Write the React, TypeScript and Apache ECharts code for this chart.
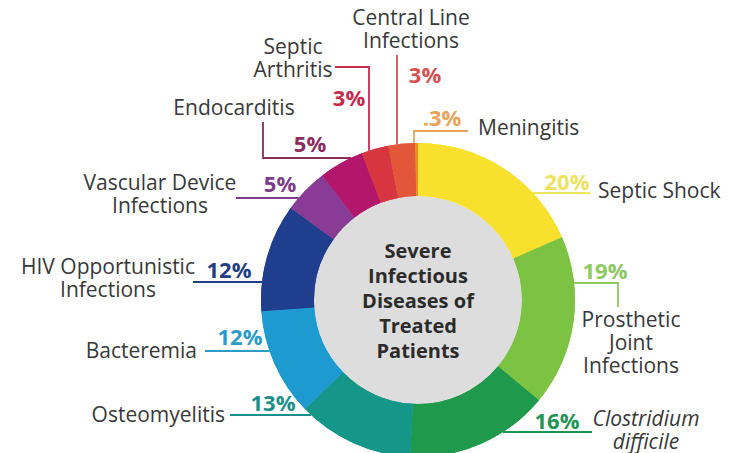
import React, { useEffect, useRef } from 'react';
import * as echarts from 'echarts';

// ---------- data ----------
const categories = [
  'Septic Shock',
  'Prosthetic\nJoint\nInfections',
  'Clostridium\ndifficile',
  'Osteomyelitis',
  'Bacteremia',
  'HIV Opportunistic\nInfections',
  'Vascular Device\nInfections',
  'Endocarditis',
  'Septic\nArthritis',
  'Central Line\nInfections',
  'Meningitis',
];
const shares = [20, 19, 16, 13, 12, 12, 5, 5, 3, 3, 0.3];
const centerTitle = 'Severe\nInfectious\nDiseases of\nTreated\nPatients';
const italicNames = ['Clostridium\ndifficile'];

// ---------- style ----------
const FONT = '"Open Sans", "Noto Sans", sans-serif';
const sliceColors = ['#F7E12C', '#7CC243', '#1F9A4C', '#149689', '#1D9AD0', '#1F3F8E', '#893C96', '#B3176C', '#D7363E', '#E2573A', '#EE8C2C'];
const accentColors = ['#ECE35E', '#8DC862', '#1E9455', '#1A8F8A', '#2C9BC6', '#223F84', '#7C3D8C', '#8A2F5C', '#C52B4E', '#D5504F', '#E9A35A'];
const CX = 418;
const CY = 300;
const R_OUT = 157;
const R_IN = 104;

// label layout (positions in px)
const pctPos = [
  { x: 567, y: 181, align: 'center' },
  { x: 605, y: 270, align: 'center' },
  { x: 557, y: 420, align: 'center' },
  { x: 273, y: 402, align: 'center' },
  { x: 240, y: 336, align: 'center' },
  { x: 229, y: 269, align: 'center' },
  { x: 280, y: 183, align: 'center' },
  { x: 310, y: 143, align: 'center' },
  { x: 349, y: 97, align: 'center' },
  { x: 425, y: 74, align: 'center' },
  { x: 442, y: 117, align: 'center' },
];
const namePos = [
  { x: 598, y: 190, align: 'left' },
  { x: 631, y: 342, align: 'center' },
  { x: 646, y: 429, align: 'center' },
  { x: 225, y: 414, align: 'right' },
  { x: 197, y: 350, align: 'right' },
  { x: 108, y: 277, align: 'center' },
  { x: 160, y: 193, align: 'center' },
  { x: 234, y: 107, align: 'center' },
  { x: 293, y: 57, align: 'center' },
  { x: 411, y: 28, align: 'center' },
  { x: 478, y: 127, align: 'left' },
];
// leader: first segment leaves the ring horizontally ('h', at y) or vertically ('v', at x)
const leaders = [
  { dir: 'h', at: 193, path: [[590, 193]] },
  { dir: 'h', at: 283, path: [[618, 283], [618, 307]] },
  { dir: 'h', at: 432, path: [[592, 432]] },
  { dir: 'h', at: 415, path: [[230, 415]] },
  { dir: 'h', at: 351, path: [[205, 351]] },
  { dir: 'h', at: 282, path: [[193, 282]] },
  { dir: 'h', at: 198, path: [[236, 198]] },
  { dir: 'h', at: 158, path: [[263, 158], [263, 122]] },
  { dir: 'v', at: 369, path: [[369, 67], [335, 67]] },
  { dir: 'v', at: 397, path: [[397, 55]] },
  { dir: 'v', at: 414, path: [[414, 131], [468, 131]] },
];

function ringPoint(dir: string, at: number, toward: number[]) {
  if (dir === 'h') {
    const dy = at - CY;
    const dx = Math.sqrt(Math.max(0, R_OUT * R_OUT - dy * dy));
    return [toward[0] > CX ? CX + dx : CX - dx, at];
  }
  const dx = at - CX;
  const dy = Math.sqrt(Math.max(0, R_OUT * R_OUT - dx * dx));
  return [at, toward[1] > CY ? CY + dy : CY - dy];
}

function pctText(v: number) {
  return String(v).replace(/^0(?=\.)/, '') + '%';
}

export default function App() {
  const ref = useRef<HTMLDivElement>(null);
  useEffect(() => {
    if (!ref.current) return;
    const chart = echarts.init(ref.current, null, { renderer: 'svg' });
    const option: any = {
      animation: false,
      backgroundColor: '#ffffff',
      textStyle: { fontFamily: FONT },
      series: [
        {
          type: 'pie',
          name: 'center',
          radius: [0, R_IN],
          center: [CX, CY],
          silent: true,
          label: {
            show: true,
            position: 'center',
            formatter: centerTitle,
            fontFamily: FONT,
            fontSize: 20,
            fontWeight: 'bold',
            lineHeight: 25,
            color: '#2B2B2B',
          },
          labelLine: { show: false },
          itemStyle: { color: '#DDDDDD' },
          data: [{ value: 1, name: 'center' }],
        },
        {
          type: 'pie',
          name: 'names',
          radius: [R_IN, R_OUT],
          center: [CX, CY],
          startAngle: 90,
          clockwise: true,
          silent: true,
          avoidLabelOverlap: false,
          itemStyle: { borderWidth: 0 },
          label: {
            show: true,
            position: 'outside',
            formatter: '{b}',
            fontFamily: FONT,
            fontSize: 21,
            lineHeight: 23,
            color: '#383838',
            width: 400,
            overflow: 'none',
          },
          labelLine: { show: false },
          labelLayout: (p: any) => {
            const pos = namePos[p.dataIndex];
            return { x: pos.x, y: pos.y, align: pos.align, verticalAlign: 'middle' };
          },
          data: categories.map((c, i) => ({
            name: c,
            value: shares[i],
            itemStyle: { color: sliceColors[i] },
            label: italicNames.includes(c) ? { fontStyle: 'italic' } : {},
          })),
        },
        {
          type: 'pie',
          name: 'shares',
          radius: [R_IN, R_OUT],
          center: [CX, CY],
          startAngle: 90,
          clockwise: true,
          silent: true,
          avoidLabelOverlap: false,
          itemStyle: { borderWidth: 0 },
          label: {
            show: true,
            position: 'outside',
            formatter: (p: any) => pctText(p.value),
            fontFamily: FONT,
            fontSize: 22,
            fontWeight: 'bold',
            width: 200,
            overflow: 'none',
          },
          labelLine: { show: true, length: 6, length2: 6, lineStyle: { width: 1.8 } },
          labelLayout: (p: any) => {
            const pos = pctPos[p.dataIndex];
            const ld = leaders[p.dataIndex];
            const start = ringPoint(ld.dir, ld.at, ld.path[0]);
            return {
              x: pos.x,
              y: pos.y,
              align: pos.align,
              verticalAlign: 'middle',
              labelLinePoints: [start, ...ld.path],
            };
          },
          data: categories.map((c, i) => ({
            name: c,
            value: shares[i],
            itemStyle: { color: sliceColors[i] },
            label: { color: accentColors[i] },
            labelLine: { lineStyle: { color: accentColors[i] } },
          })),
        },
      ],
    };
    chart.setOption(option);
    return () => chart.dispose();
  }, []);
  return (
    <div
      ref={ref}
      style={{ position: 'fixed', left: 0, top: 0, width: 736, height: 453 }}
    />
  );
}
